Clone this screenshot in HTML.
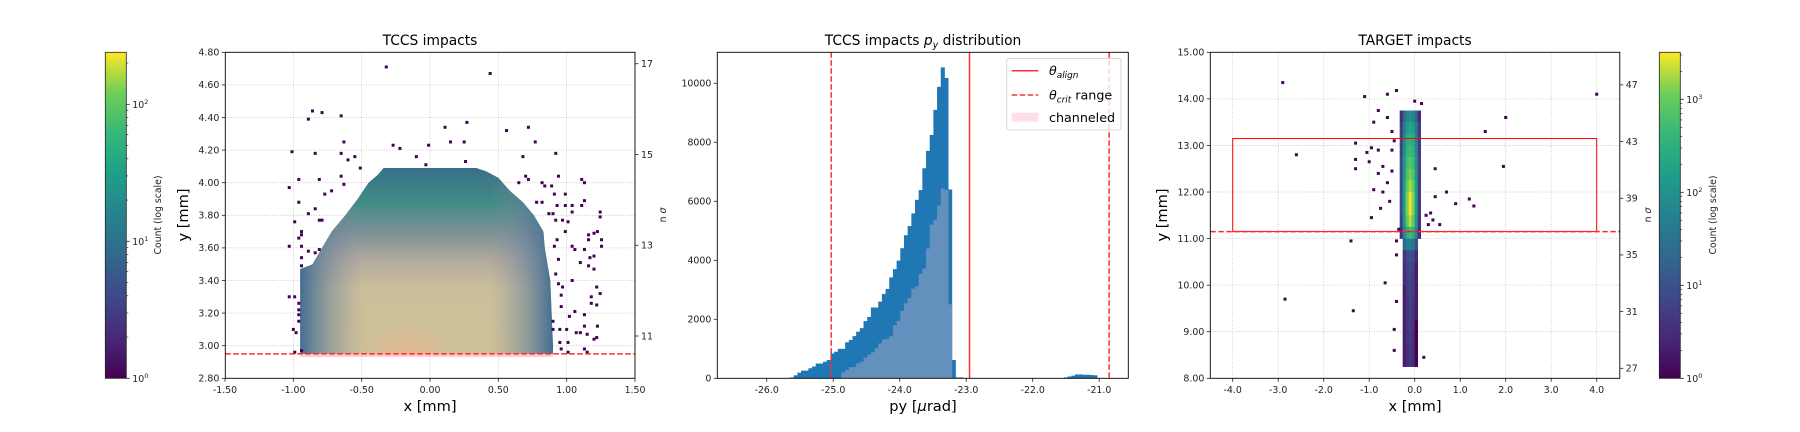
<!DOCTYPE html>
<html><head><meta charset="utf-8"><title>TCCS impacts</title>
<style>
html,body{margin:0;padding:0;background:#fff;}
svg{display:block;font-family:"DejaVu Sans","Liberation Sans",sans-serif;}
.tk{font-size:9.4px;fill:#222;}
.ttl{font-size:13.8px;fill:#000;}
.al{font-size:14.6px;fill:#000;}
.sl{font-size:9.3px;fill:#222;}
</style></head>
<body>
<svg id="fig" width="1800" height="432" viewBox="0 0 1800 432" xmlns="http://www.w3.org/2000/svg">
<defs>
<linearGradient id="vir" x1="0" y1="1" x2="0" y2="0">
<stop offset="0" stop-color="#440154"/><stop offset="0.125" stop-color="#482878"/><stop offset="0.25" stop-color="#3e4989"/><stop offset="0.375" stop-color="#31688e"/><stop offset="0.5" stop-color="#26828e"/><stop offset="0.625" stop-color="#1f9e89"/><stop offset="0.75" stop-color="#35b779"/><stop offset="0.875" stop-color="#6ece58"/><stop offset="1" stop-color="#fde725"/>
</linearGradient>
<linearGradient id="bulkV" x1="0" y1="0" x2="0" y2="1">
<stop offset="0" stop-color="#3a6f8a"/><stop offset="0.18" stop-color="#3f8a86"/><stop offset="0.35" stop-color="#7d9296"/><stop offset="0.5" stop-color="#b3aa9e"/><stop offset="0.65" stop-color="#cbbf9a"/><stop offset="1" stop-color="#cdc096"/>
</linearGradient>
<linearGradient id="bulkH" x1="0" y1="0" x2="1" y2="0">
<stop offset="0" stop-color="#3b6a92" stop-opacity="0.95"/><stop offset="0.1" stop-color="#5a7a9c" stop-opacity="0.55"/><stop offset="0.25" stop-color="#8a90a4" stop-opacity="0"/><stop offset="0.75" stop-color="#8a90a4" stop-opacity="0"/><stop offset="0.9" stop-color="#5a7a9c" stop-opacity="0.55"/><stop offset="1" stop-color="#3b6a92" stop-opacity="0.95"/>
</linearGradient>
<radialGradient id="glow" cx="0.42" cy="1" r="0.18">
<stop offset="0" stop-color="#f2b294" stop-opacity="0.6"/><stop offset="1" stop-color="#f2b294" stop-opacity="0"/>
</radialGradient>
<clipPath id="c1"><rect x="225.3" y="52.3" width="409.7" height="326"/></clipPath>
<clipPath id="c2"><rect x="717.3" y="52.3" width="411" height="326"/></clipPath>
<clipPath id="c3"><rect x="1210.3" y="52.3" width="409.5" height="326"/></clipPath>
</defs>

<rect x="105.3" y="52.3" width="21" height="326" fill="url(#vir)" stroke="#222" stroke-width="0.8"/>
<text class="sl" transform="translate(161,215) rotate(-90)" text-anchor="middle">Count (log scale)</text>
<rect x="1659.3" y="52.3" width="21" height="326" fill="url(#vir)" stroke="#222" stroke-width="0.8"/>
<text class="sl" transform="translate(1716,215) rotate(-90)" text-anchor="middle">Count (log scale)</text>

<text class="ttl" x="430" y="45" text-anchor="middle">TCCS impacts</text>
<text class="ttl" x="923" y="45" text-anchor="middle">TCCS impacts <tspan font-style="italic">p</tspan><tspan font-style="italic" font-size="9.6px" dy="3">y</tspan><tspan dy="-3"> distribution</tspan></text>
<text class="ttl" x="1415" y="45" text-anchor="middle">TARGET impacts</text>
<text class="al" x="430" y="411" text-anchor="middle">x [mm]</text>
<text class="al" transform="translate(188,215) rotate(-90)" text-anchor="middle">y [mm]</text>
<text class="sl" transform="translate(666,215) rotate(-90)" text-anchor="middle">n <tspan font-style="italic">σ</tspan></text>
<text class="al" x="923" y="411" text-anchor="middle">py [<tspan font-style="italic">μ</tspan>rad]</text>
<text class="al" x="1415" y="411" text-anchor="middle">x [mm]</text>
<text class="al" transform="translate(1167,215) rotate(-90)" text-anchor="middle">y [mm]</text>
<text class="sl" transform="translate(1651,215) rotate(-90)" text-anchor="middle">n <tspan font-style="italic">σ</tspan></text>

<g id="layer"></g>

<g>
<rect x="1006.7" y="58.3" width="114.3" height="71.7" rx="2.5" fill="#fff" fill-opacity="0.8" stroke="#ccc" stroke-width="0.8"/>
<line x1="1011.7" y1="70.7" x2="1038.3" y2="70.7" stroke="#ff3030" stroke-width="1.5"/>
<text x="1049" y="75" font-size="12.7px" fill="#000"><tspan font-style="italic">θ</tspan><tspan font-style="italic" font-size="8.9px" dy="3">align</tspan></text>
<line x1="1011.7" y1="95" x2="1038.3" y2="95" stroke="#ff3030" stroke-width="1.5" stroke-dasharray="5.5,2.5"/>
<text x="1049" y="99.5" font-size="12.7px" fill="#000"><tspan font-style="italic">θ</tspan><tspan font-style="italic" font-size="8.9px" dy="3">crit</tspan><tspan dy="-3"> range</tspan></text>
<rect x="1011.7" y="112.7" width="26.6" height="9" fill="#fde0e6"/>
<text x="1049" y="122" font-size="12.7px" fill="#000">channeled</text>
</g>
</svg>

<script>
// ---------- Panel 2: histogram data ----------
const histStart = -25.65;
const histBinWidth = 0.0553;
const histCounts = [30,100,190,260,260,340,400,500,500,560,620,840,900,1000,1000,1220,1300,1430,1580,1700,1940,2080,2400,2400,2600,2860,3030,3420,3700,3990,4410,4850,5160,5590,6050,6380,7120,7710,8250,9100,9880,10540,10180,6400,620,30,30];
const channeledCounts = [0,0,0,0,0,0,0,0,0,0,0,0,0,0,200,280,380,380,510,560,700,800,880,1020,1180,1320,1330,1430,1800,1950,2290,2540,2720,3040,3110,3540,3720,4400,5210,5370,5860,6430,6380,2510,0,0,0];
const bumpStart = -21.53;
const bumpCounts = [30,60,90,130,130,120,120,110,100];
const alignAngle = -22.95;
const critRange = [-25.03, -20.85];
const p2XTicks = [-26,-25,-24,-23,-22,-21];
const p2XTickLabels = ['-26.0','-25.0','-24.0','-23.0','-22.0','-21.0'];
const p2YTicks = [0,2000,4000,6000,8000,10000];

// ---------- Panel 1: TCCS impacts ----------
const p1XTicks = [-1.5,-1.0,-0.5,0,0.5,1.0,1.5];
const p1XTickLabels = ['-1.50','-1.00','-0.50','0.00','0.50','1.00','1.50'];
const p1YTicks = [2.8,3.0,3.2,3.4,3.6,3.8,4.0,4.2,4.4,4.6,4.8];
const p1YTickLabels = ['2.80','3.00','3.20','3.40','3.60','3.80','4.00','4.20','4.40','4.60','4.80'];
const p1SigmaTicks = [11,13,15,17];
const p1Cut = 2.95;
const envLeftY = [2.95,3.0,3.2,3.4,3.47,3.5,3.6,3.7,3.8,3.9,4.0,4.05,4.09];
const envLeftX = [-0.95,-0.95,-0.95,-0.95,-0.95,-0.86,-0.79,-0.72,-0.62,-0.53,-0.45,-0.38,-0.34];
const envRightY = [2.95,3.0,3.4,3.6,3.7,3.8,3.88,3.95,4.03,4.07,4.09];
const envRightX = [0.90,0.90,0.88,0.84,0.83,0.76,0.68,0.585,0.50,0.41,0.34];
const p1PointsX = [-0.32,0.44,-0.86,-0.79,-0.89,-0.65,0.11,0.27,0.56,0.72,-0.63,-0.27,-0.22,-0.01,0.15,0.25,0.77,-1.01,-0.84,-0.65,-0.60,-0.55,-0.10,0.26,0.68,0.92,-0.51,-0.03,-0.96,-0.81,-1.03,-0.65,-0.63,-0.72,-0.77,0.94,1.11,0.70,
1.13,0.72,0.65,0.82,0.84,0.89,0.91,0.99,0.78,0.82,0.93,0.99,1.04,1.11,1.13,1.04,0.87,0.90,0.92,0.97,1.01,0.99,1.16,1.16,0.93,1.04,0.91,1.13,1.06,1.17,1.10,0.94,0.92,1.04,0.94,0.97,0.96,1.18,1.22,0.96,1.06,1.02,1.13,1.13,0.90,0.90,0.95,1.00,1.07,1.10,1.15,0.95,1.01,0.96,1.13,1.01,1.15,
-0.96,-0.89,-0.84,-0.81,-0.79,-0.99,-0.94,-0.94,-0.96,-1.03,-0.94,-0.89,-0.84,-0.81,-0.94,-0.94,-1.03,-0.99,-0.96,-0.96,-0.96,-0.96,-1.00,-0.98,-0.99,-0.94,
1.245,1.245,1.20,1.225,1.255,1.255,1.20,1.20,1.16,1.245,1.22,1.18,1.225,1.20,1.22];
const p1PointsY = [4.71,4.67,4.44,4.43,4.39,4.41,4.34,4.37,4.32,4.34,4.25,4.23,4.21,4.23,4.25,4.25,4.25,4.19,4.18,4.18,4.14,4.16,4.16,4.13,4.16,4.18,4.09,4.11,4.02,4.02,3.97,4.04,3.99,3.95,3.93,4.04,4.02,4.04,
4.00,4.02,4.00,4.00,3.98,3.98,3.93,3.93,3.88,3.88,3.86,3.86,3.86,3.86,3.89,3.82,3.81,3.81,3.77,3.77,3.76,3.70,3.68,3.65,3.65,3.61,3.61,3.59,3.59,3.54,3.51,3.53,3.44,3.40,3.38,3.36,3.31,3.30,3.25,3.24,3.21,3.18,3.19,3.12,3.15,3.10,3.10,3.10,3.08,3.08,3.07,3.02,3.02,2.98,2.98,2.96,2.96,
3.88,3.81,3.84,3.77,3.77,3.76,3.70,3.68,3.66,3.61,3.61,3.58,3.57,3.59,3.54,3.49,3.30,3.30,3.26,3.22,3.19,3.15,3.10,3.08,2.96,2.97,
3.82,3.79,3.69,3.70,3.65,3.61,3.55,3.47,3.49,3.32,3.36,3.26,3.12,3.04,3.05];

// ---------- Panel 3: TARGET impacts ----------
const p3XTicks = [-4,-3,-2,-1,0,1,2,3,4];
const p3XTickLabels = ['-4.0','-3.0','-2.0','-1.0','0.0','1.0','2.0','3.0','4.0'];
const p3YTicks = [8,9,10,11,12,13,14,15];
const p3YTickLabels = ['8.00','9.00','10.00','11.00','12.00','13.00','14.00','15.00'];
const p3SigmaTicks = [27,31,35,39,43,47];
const p3Box = [-4, 4, 11.15, 13.15];
const p3Cut = 11.15;
const coreXStart = -0.33, coreXStep = 0.066;
const coreYTop = 13.75, coreYStep = 0.25;
const coreCounts = [
[3,20,60,80,60,20,3],
[5,40,150,200,150,40,5],
[6,60,250,350,250,60,5],
[6,80,350,500,350,80,5],
[8,100,500,800,500,100,6],
[8,120,700,1200,700,120,6],
[8,150,1000,1800,1000,150,6],
[8,150,1300,2800,1300,150,6],
[8,150,1300,3000,1300,150,5],
[6,120,900,2000,900,100,4],
[4,60,300,500,300,60,3],
[0,20,40,50,30,10,0],
[0,4,8,10,8,3,0],
[0,3,6,8,6,2,0],
[0,3,5,7,5,2,0],
[0,2,5,6,5,2,0],
[0,2,4,6,4,2,0],
[0,2,4,5,4,2,0],
[0,2,4,5,4,1,0],
[0,2,4,5,3,1,0],
[0,2,3,4,3,1,0],
[0,2,3,4,3,1,0]];
const p3PointsX = [-2.9,-1.1,-0.6,-0.4,0.0,0.15,-0.8,-0.9,-0.6,-0.5,-1.3,-0.95,-1.05,-0.8,-2.6,-1.3,-1.0,-1.3,-0.7,-0.5,-0.8,-0.6,-0.9,-0.7,-0.55,-0.75,-0.95,0.45,0.7,0.45,0.9,1.2,1.3,0.35,0.4,0.55,1.55,2.0,1.95,4.0,-1.4,-0.4,-0.4,-0.65,-0.4,-2.85,-1.35,-0.45,-0.45,0.2,-0.35,0.25,0.3,-0.5,-0.45];
const p3PointsY = [14.35,14.05,14.1,14.18,13.95,13.9,13.75,13.5,13.6,13.3,13.05,12.95,12.85,12.9,12.8,12.7,12.65,12.5,12.55,12.45,12.4,12.2,12.05,12.0,11.8,11.65,11.45,12.5,12.0,11.9,11.75,11.85,11.7,11.55,11.4,11.3,13.3,13.6,12.55,14.1,10.95,10.95,10.65,10.05,9.65,9.7,9.45,9.05,8.6,8.45,11.2,11.5,11.3,12.9,13.1];

const cb1Decades = [0,1,2];
const cb1Max = 240;
const cb2Decades = [0,1,2,3];
const cb2Max = 3200;

const x1 = v => 430 + v*136.67, y1 = v => 378.3 - (v-2.8)*163, s1 = v => 336 - (v-11)*45.38;
const x2 = v => 766.7 + (v+26)*66.5, y2 = v => 378.3 - v*0.0295;
const x3 = v => 1414.7 + v*45.5, y3 = v => 378.3 - (v-8)*46.57, s3 = v => 368.3 - (v-27)*14.17;
const cb1 = e => 378.3 - e*137, cb2 = e => 378.3 - e*93;

const NS = 'http://www.w3.org/2000/svg';
const layer = document.getElementById('layer');
function mk(parent, tag, attrs){ const e = document.createElementNS(NS, tag); for (const k in attrs) e.setAttribute(k, attrs[k]); parent.appendChild(e); return e; }
function grp(clip){ return mk(layer,'g', clip ? {'clip-path':'url(#'+clip+')'} : {}); }

const vStops = [[0x44,0x01,0x54],[0x48,0x28,0x78],[0x3e,0x49,0x89],[0x31,0x68,0x8e],[0x26,0x82,0x8e],[0x1f,0x9e,0x89],[0x35,0xb7,0x79],[0x6e,0xce,0x58],[0xfd,0xe7,0x25]];
function viridis(t){ t = Math.max(0, Math.min(1, t)); const p = t*8, i = Math.min(7, Math.floor(p)), f = p - i; const a = vStops[i], b = vStops[i+1]; return 'rgb(' + [0,1,2].map(k => Math.round(a[k] + (b[k]-a[k])*f)).join(',') + ')'; }

function yTick(g, x, y, label, side){
  const d = side === 'r' ? 3.5 : -3.5;
  const t = mk(g,'line',{x1:x,y1:y,x2:x+d,y2:y,stroke:'#222','stroke-width':0.8});
  
  
  const tx = mk(g,'text',{x: side==='r' ? x+6 : x-6, y: y+3.3, class:'tk', 'text-anchor': side==='r' ? 'start' : 'end'});
  tx.textContent = label;
  
  
}
function xTick(g, x, y, label){
  const t = mk(g,'line',{x1:x,y1:y,x2:x,y2:y+3.5,stroke:'#222','stroke-width':0.8});
  
  
  const tx = mk(g,'text',{x:x, y:y+14.5, class:'tk','text-anchor':'middle'});
  tx.textContent = label;
  
  
}
function grid(g, a, b, c, d){
  const l = mk(g,'line',{x1:a,y1:b,x2:c,y2:d,stroke:'#b0b0b0','stroke-width':0.8,'stroke-dasharray':'1,1.6','stroke-opacity':0.8});
  
  
}
function frame(x, y, w, h, name){
  const r = mk(layer,'rect',{x:x,y:y,width:w,height:h,fill:'none',stroke:'#000','stroke-width':0.9});
  
  
}
function colorbarTicks(scale, decades, vmax, right){
  const g = grp(null);
  const top = Math.log10(vmax);
  for (let d = 0; d <= Math.floor(top); d++){
    for (let m = 2; m <= 9; m++){
      const e = d + Math.log10(m); if (e > top) break;
      const t = mk(g,'line',{x1:right,y1:scale(e),x2:right+2,y2:scale(e),stroke:'#222','stroke-width':0.6});
      
      
    }
  }
  decades.forEach(d => {
    const y = scale(d);
    const t = mk(g,'line',{x1:right,y1:y,x2:right+3.5,y2:y,stroke:'#222','stroke-width':0.8});
    
    
    const tx = mk(g,'text',{x:right+6,y:y+3.5,class:'tk'});
    
    
    tx.appendChild(document.createTextNode('10'));
    const sup = mk(tx,'tspan',{dy:-4,'font-size':'6.5px'});
    sup.textContent = String(d);
  });
}

// ===== Panel 1 =====
(function(){
  const gg = grp(null);
  p1XTicks.slice(1,-1).forEach(v => grid(gg, x1(v), 52.3, x1(v), 378.3));
  p1YTicks.slice(1,-1).forEach(v => grid(gg, 225.3, y1(v), 635, y1(v)));
  const g = grp('c1');
  let pts = [];
  for (let i = 0; i < envLeftY.length; i++) pts.push(x1(envLeftX[i]) + ',' + y1(envLeftY[i]));
  for (let i = envRightY.length-1; i >= 0; i--) pts.push(x1(envRightX[i]) + ',' + y1(envRightY[i]));
  const poly = pts.join(' ');
  const a = mk(g,'polygon',{points:poly, fill:'url(#bulkV)'});
  
  
  const b = mk(g,'polygon',{points:poly, fill:'url(#bulkH)'});
  
  
  const c = mk(g,'polygon',{points:poly, fill:'url(#glow)'});
  
  
  const ch = mk(g,'rect',{x:x1(envLeftX[0]), y:y1(p1Cut), width:x1(envRightX[0])-x1(envLeftX[0]), height:y1(2.93)-y1(p1Cut), fill:'#ffb6c1', 'fill-opacity':0.7});
  
  
  for (let i = 0; i < p1PointsX.length; i++){
    const r = mk(g,'rect',{x:x1(p1PointsX[i])-1.5, y:y1(p1PointsY[i])-1.5, width:3, height:3, fill:viridis(0)});
    
    
  }
  const cut = mk(g,'line',{x1:225.3,y1:y1(p1Cut),x2:635,y2:y1(p1Cut),stroke:'#ff2a2a','stroke-width':1.5,'stroke-dasharray':'5.5,2.5'});
  
  
  frame(225.3, 52.3, 409.7, 326, 'p1-axes-frame');
  const gt = grp(null);
  p1XTicks.forEach((v,i) => xTick(gt, x1(v), 378.3, p1XTickLabels[i]));
  p1YTicks.forEach((v,i) => yTick(gt, 225.3, y1(v), p1YTickLabels[i], 'l'));
  p1SigmaTicks.forEach(v => yTick(gt, 635, s1(v), String(v), 'r'));
})();

// ===== Panel 2 =====
(function(){
  const g = grp('c2');
  histCounts.forEach((v,i) => {
    const u = histStart + i*histBinWidth;
    const r = mk(g,'rect',{x:x2(u), y:y2(v), width:x2(u+histBinWidth)-x2(u)+0.4, height:y2(0)-y2(v), fill:'#1f77b4'});
    
    
  });
  bumpCounts.forEach((v,i) => {
    const u = bumpStart + i*histBinWidth;
    const r = mk(g,'rect',{x:x2(u), y:y2(v), width:x2(u+histBinWidth)-x2(u)+0.4, height:y2(0)-y2(v), fill:'#1f77b4'});
    
    
  });
  channeledCounts.forEach((v,i) => {
    if (!v) return;
    const u = histStart + i*histBinWidth;
    const r = mk(g,'rect',{x:x2(u), y:y2(v), width:x2(u+histBinWidth)-x2(u)+0.4, height:y2(0)-y2(v), fill:'#6490be'});
    
    
  });
  critRange.forEach(v => {
    const l = mk(g,'line',{x1:x2(v),y1:52.3,x2:x2(v),y2:378.3,stroke:'#ff2a2a','stroke-width':1.5,'stroke-dasharray':'5.5,2.5'});
    
    
  });
  const al = mk(g,'line',{x1:x2(alignAngle),y1:52.3,x2:x2(alignAngle),y2:378.3,stroke:'#ff2a2a','stroke-width':1.5});
  
  
  frame(717.3, 52.3, 411, 326, 'p2-axes-frame');
  const gt = grp(null);
  p2XTicks.forEach((v,i) => xTick(gt, x2(v), 378.3, p2XTickLabels[i]));
  p2YTicks.forEach(v => yTick(gt, 717.3, y2(v), String(v), 'l'));
})();

// ===== Panel 3 =====
(function(){
  const gg = grp(null);
  p3XTicks.forEach(v => grid(gg, x3(v), 52.3, x3(v), 378.3));
  p3YTicks.slice(1,-1).forEach(v => grid(gg, 1210.3, y3(v), 1619.8, y3(v)));
  const g = grp('c3');
  const lmax = Math.log10(cb2Max);
  coreCounts.forEach((row, ri) => {
    const yt = coreYTop - ri*coreYStep;
    row.forEach((v, ci) => {
      if (!v) return;
      const xl = coreXStart + ci*coreXStep;
      const r = mk(g,'rect',{x:x3(xl), y:y3(yt), width:x3(xl+coreXStep)-x3(xl)+0.3, height:y3(yt-coreYStep)-y3(yt)+0.3, fill:viridis(Math.log10(v)/lmax)});
      
      
    });
  });
  for (let i = 0; i < p3PointsX.length; i++){
    const r = mk(g,'rect',{x:x3(p3PointsX[i])-1.5, y:y3(p3PointsY[i])-1.5, width:3, height:3, fill:viridis(0)});
    
    
  }
  const box = mk(g,'rect',{x:x3(p3Box[0]), y:y3(p3Box[3]), width:x3(p3Box[1])-x3(p3Box[0]), height:y3(p3Box[2])-y3(p3Box[3]), fill:'none', stroke:'#ff0000','stroke-width':1});
  
  
  const cut = mk(g,'line',{x1:1210.3,y1:y3(p3Cut),x2:1619.8,y2:y3(p3Cut),stroke:'#ff2a2a','stroke-width':1.5,'stroke-dasharray':'5.5,2.5'});
  
  
  frame(1210.3, 52.3, 409.5, 326, 'p3-axes-frame');
  const gt = grp(null);
  p3XTicks.forEach((v,i) => xTick(gt, x3(v), 378.3, p3XTickLabels[i]));
  p3YTicks.forEach((v,i) => yTick(gt, 1210.3, y3(v), p3YTickLabels[i], 'l'));
  p3SigmaTicks.forEach(v => yTick(gt, 1619.8, s3(v), String(v), 'r'));
})();

colorbarTicks(cb1, cb1Decades, cb1Max, 126.3);
colorbarTicks(cb2, cb2Decades, cb2Max, 1680.3);
</script>
</body></html>
